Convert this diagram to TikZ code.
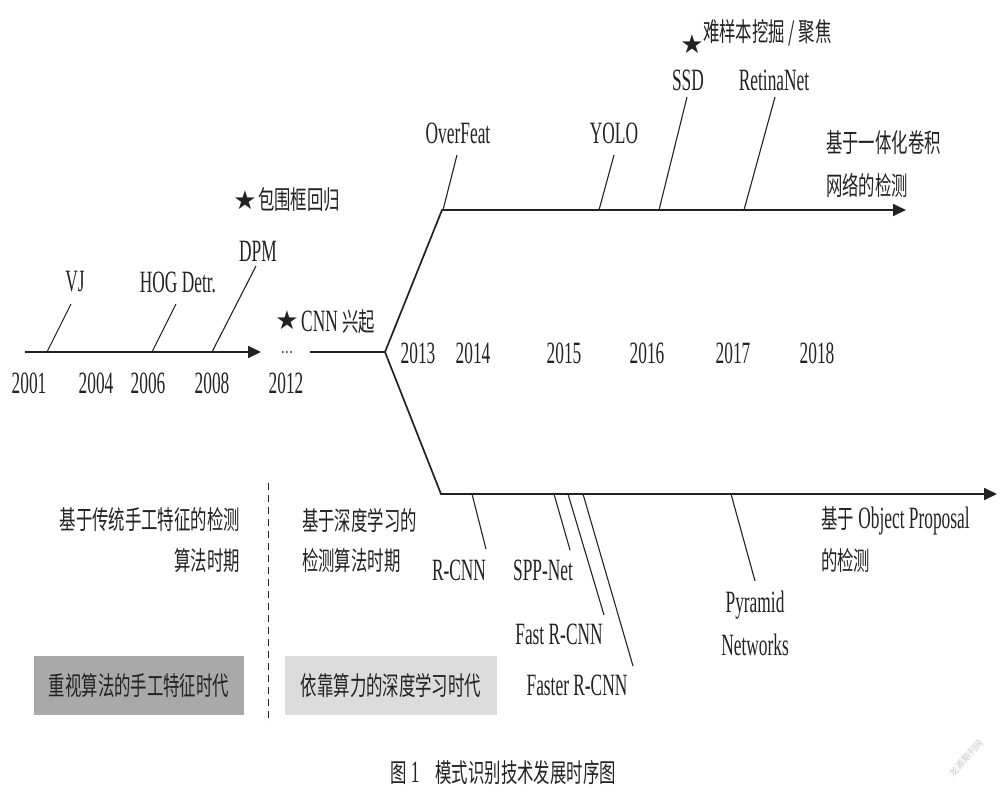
\documentclass[tikz,border=0pt]{standalone}
\usepackage{fontspec}
\setmainfont{Liberation Serif}[FakeStretch=0.56]
\newfontfamily\cjk{Noto Sans CJK SC}[FakeStretch=0.63]
\newfontfamily\cjkw{Noto Sans CJK SC}
\newfontfamily\sym{DejaVu Sans}
\usetikzlibrary{arrows.meta}
\definecolor{darkbox}{HTML}{A9A9A9}
\definecolor{lightbox}{HTML}{DCDCDC}
\definecolor{ink}{HTML}{222222}
\tikzset{
  every node/.style={inner sep=0pt, text=ink},
  lbl/.style={font=\fontsize{31}{36}\selectfont},
  clbl/.style={font=\fontsize{26}{30}\selectfont\cjk},
  starlbl/.style={font=\fontsize{26}{30}\selectfont\sym},
  mainline/.style={draw=ink, line width=1.7pt},
  tickline/.style={draw=ink, line width=1.1pt},
  arrowend/.style={-{Triangle[length=13pt,width=12pt]}},
  erabox/.style={minimum width=#1, minimum height=59pt, font=\fontsize{26}{30}\selectfont\cjk},
}
\begin{document}
\begin{tikzpicture}[x=1pt,y=-1pt]
\useasboundingbox (0,0) rectangle (1000,796);
% ---------- main timeline ----------
\coordinate (L0) at (25,352);
\coordinate (L1) at (261,352);
\coordinate (R0) at (310,352);
\coordinate (J) at (385,352);
\coordinate (U0) at (442,210);
\coordinate (U1) at (906,210);
\coordinate (D0) at (441,494);
\coordinate (D1) at (997,494);
\draw[mainline,arrowend] (L0) -- (L1);
\draw[mainline] (R0) -- (J);
\draw[mainline,arrowend,line join=miter] (J) -- (U0) -- (U1);
\draw[mainline,arrowend,line join=miter] (J) -- (D0) -- (D1);
\node[font=\fontsize{22}{24}\selectfont,anchor=base,text height=4pt,text depth=0pt] (dots) at (287,353) {…};
% ---------- left ticks ----------
\coordinate (vjB) at (47,352);  \coordinate (vjT) at (71,304);
\coordinate (hogB) at (152,352); \coordinate (hogT) at (176,304);
\coordinate (dpmB) at (212,352); \coordinate (dpmT) at (256,266);
\draw[tickline] (vjB) -- (vjT);
\draw[tickline] (hogB) -- (hogT);
\draw[tickline] (dpmB) -- (dpmT);
\node[lbl] (vj) at (75,282) {VJ};
\node[lbl] (hog) at (178,282) {HOG Detr.};
\node[lbl] (dpm) at (258,251) {DPM};
\node[starlbl] (star1) at (245,200) {★};
\node[clbl,anchor=west] (bbox) at (258,200) {包围框回归};
\node[starlbl] (star2) at (287,320) {★};
\node[lbl,anchor=west] (cnn) at (301,322) {CNN {\fontsize{26}{30}\selectfont\cjk 兴起}};
% ---------- years ----------
\node[lbl] (y2001) at (29,383) {2001};
\node[lbl] (y2004) at (96,383) {2004};
\node[lbl] (y2006) at (148,383) {2006};
\node[lbl] (y2008) at (212,383) {2008};
\node[lbl] (y2012) at (286,383) {2012};
\node[lbl] (y2013) at (418,353) {2013};
\node[lbl] (y2014) at (473,353) {2014};
\node[lbl] (y2015) at (564,353) {2015};
\node[lbl] (y2016) at (647,353) {2016};
\node[lbl] (y2017) at (733,353) {2017};
\node[lbl] (y2018) at (817,353) {2018};
% ---------- upper branch ticks ----------
\coordinate (ofB) at (443,210); \coordinate (ofT) at (457,155);
\coordinate (yoB) at (599,210); \coordinate (yoT) at (614,155);
\coordinate (ssB) at (659,210); \coordinate (ssT) at (687,97);
\coordinate (rnB) at (744,210); \coordinate (rnT) at (775,97);
\draw[tickline] (ofB) -- (ofT);
\draw[tickline] (yoB) -- (yoT);
\draw[tickline] (ssB) -- (ssT);
\draw[tickline] (rnB) -- (rnT);
\node[lbl] (of) at (458,133) {OverFeat};
\node[lbl] (yolo) at (614,133) {YOLO};
\node[lbl] (ssd) at (688,80) {SSD};
\node[lbl] (rn) at (774,80) {RetinaNet};
\node[starlbl] (star3) at (692,44) {★};
\node[clbl,anchor=west] (hard) at (703,33) {难样本挖掘 / 聚焦};
\node[clbl,anchor=west] (one1) at (826,143) {基于一体化卷积};
\node[clbl,anchor=west] (one2) at (826,185) {网络的检测};
% ---------- lower branch ticks ----------
\coordinate (rcB) at (472,494); \coordinate (rcT) at (486,549);
\coordinate (spB) at (554,494); \coordinate (spT) at (570,550);
\coordinate (faB) at (568,494); \coordinate (faT) at (604,615);
\coordinate (frB) at (583,494); \coordinate (frT) at (633,666);
\coordinate (pyB) at (731,494); \coordinate (pyT) at (755,581);
\draw[tickline] (rcB) -- (rcT);
\draw[tickline] (spB) -- (spT);
\draw[tickline] (faB) -- (faT);
\draw[tickline] (frB) -- (frT);
\draw[tickline] (pyB) -- (pyT);
\node[lbl] (rcnn) at (459,570) {R-CNN};
\node[lbl] (spp) at (543,570) {SPP-Net};
\node[lbl] (fast) at (559,634) {Fast R-CNN};
\node[lbl] (faster) at (577,685) {Faster R-CNN};
\node[lbl] (pyr1) at (755,605) {Pyramid};
\node[lbl] (pyr2) at (755,645) {Networks};
\node[lbl,anchor=west] (op1) at (821,521) {{\fontsize{26}{30}\selectfont\cjk 基于} Object Proposal};
\node[clbl,anchor=west] (op2) at (821,561) {的检测};
% ---------- periods ----------
\node[clbl,anchor=east] (trad1) at (240,520) {基于传统手工特征的检测};
\node[clbl,anchor=east] (trad2) at (240,561) {算法时期};
\coordinate (dashT) at (268,483);
\coordinate (dashB) at (268,723);
\draw[draw=ink, line width=1pt, dash pattern=on 7pt off 5pt] (dashT) -- (dashB);
\node[clbl,anchor=west] (deep1) at (302,520) {基于深度学习的};
\node[clbl,anchor=west] (deep2) at (302,561) {检测算法时期};
\node[erabox=210pt, fill=darkbox] (era1) at (139,685.5) {重视算法的手工特征时代};
\node[erabox=212pt, fill=lightbox] (era2) at (391,685.5) {依靠算力的深度学习时代};
% ---------- caption ----------
\node[clbl] (cap) at (503,773) {图\,{\rmfamily\fontsize{31}{36}\selectfont 1}\hspace{16pt}模式识别技术发展时序图};
\node[font=\fontsize{9}{11}\selectfont\cjkw, text=black!22, rotate=48] (wm) at (966,758) {龙源期刊网};
\end{tikzpicture}
\end{document}
